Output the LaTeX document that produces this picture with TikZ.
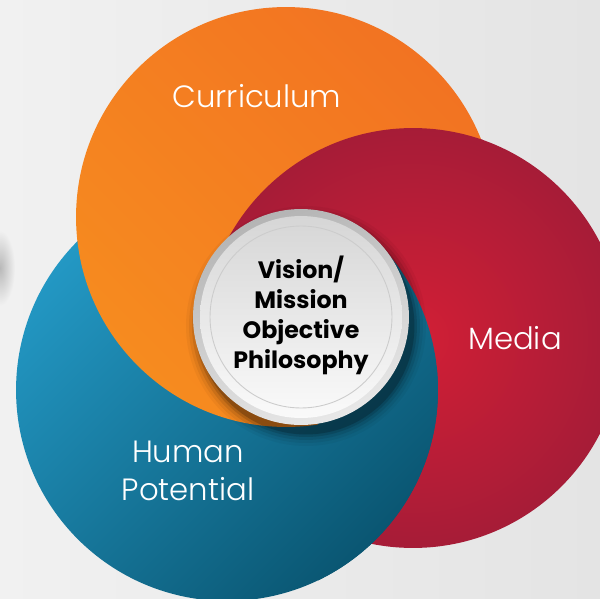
\documentclass[tikz,border=0pt]{standalone}
\usepackage{fontspec}
\setmainfont{Poppins}
\newfontfamily\thinfont{Poppins Light}
\usepackage{tikz}
\usepackage{xcolor}
\usetikzlibrary{positioning}

\definecolor{bgleft}{HTML}{F1F1F1}
\definecolor{bgright}{HTML}{E4E4E4}
\definecolor{curlight}{HTML}{F68B1F}
\definecolor{curdark}{HTML}{F27322}
\definecolor{medlight}{HTML}{D21F36}
\definecolor{meddark}{HTML}{A61C37}
\definecolor{humlight}{HTML}{2398C4}
\definecolor{humdark}{HTML}{0A5672}
\definecolor{rimdark}{HTML}{B4B4B4}
\definecolor{rimlight}{HTML}{E8E8E8}
\definecolor{facetop}{HTML}{D6D6D6}
\definecolor{facebot}{HTML}{FAFAFA}

\tikzset{
  curshade/.style={top color=curdark, bottom color=curlight, shading angle=-45},
  medshade/.style={inner color=medlight, outer color=meddark},
  humshade/.style={top color=humlight, bottom color=humdark, shading angle=45},
  petal/.style={text=white, font=\thinfont\fontsize{17.5}{21.5}\selectfont, align=center},
  hubtext/.style={text=black, font=\bfseries\fontsize{13.5}{17}\selectfont, align=center}
}

\begin{document}
\begin{tikzpicture}[x=0.02cm, y=-0.02cm]
% background
\shade[left color=bgleft, right color=bgright] (0,0) rectangle (600,599);
\useasboundingbox (0,0) rectangle (600,599);
\shade[inner color=gray!55, outer color=bgleft] (0,268) ellipse [x radius=0.3cm, y radius=0.75cm];

% centres of the circles
\coordinate (cur) at (286,217);
\coordinate (med) at (413,338);
\coordinate (hum) at (227,390);
\coordinate (hub) at (301,317);

% Media, Human Potential, Curriculum
\shade[medshade] (med) circle [radius=4.2cm];
\shade[humshade] (hum) circle [radius=4.22cm];
\shade[curshade] (cur) circle [radius=4.2cm];
% Media lies over Curriculum
\begin{scope}
  \clip (cur) circle [radius=4.24cm];
  \clip (0,0) -- (600,0) -- (600,560) -- (150,340) -- (0,340) -- cycle;
  \shade[medshade] (med) circle [radius=4.2cm];
\end{scope}
% Human Potential lies over both right of the hub
\begin{scope}
  \clip (318,240) rectangle (600,599);
  \shade[humshade] (hum) circle [radius=4.22cm];
\end{scope}

% hub shadow
\foreach \r/\o in {2.40/0.04, 2.34/0.06, 2.28/0.09, 2.22/0.13, 2.17/0.2}
  \fill[black, opacity=\o] ([shift={(5,9)}]hub) circle [radius=\r cm];

% hub disc
\shade[top color=rimdark, bottom color=rimlight, shading angle=20] (hub) circle [radius=2.16cm];
\shade[top color=facetop, bottom color=facebot] (hub) circle [radius=2.02cm];
\draw[gray!40, line width=0.5pt] (hub) circle [radius=1.82cm];

% labels
\node[hubtext] (core) at ([yshift=1]hub) {Vision/\\Mission\\Objective\\Philosophy};
\node[petal] (curriculum) at (257,96) {Curriculum};
\node[petal] (media) at (515,338) {Media};
\node[petal] (human) at (188,471) {Human\\Potential};
\end{tikzpicture}
\end{document}
